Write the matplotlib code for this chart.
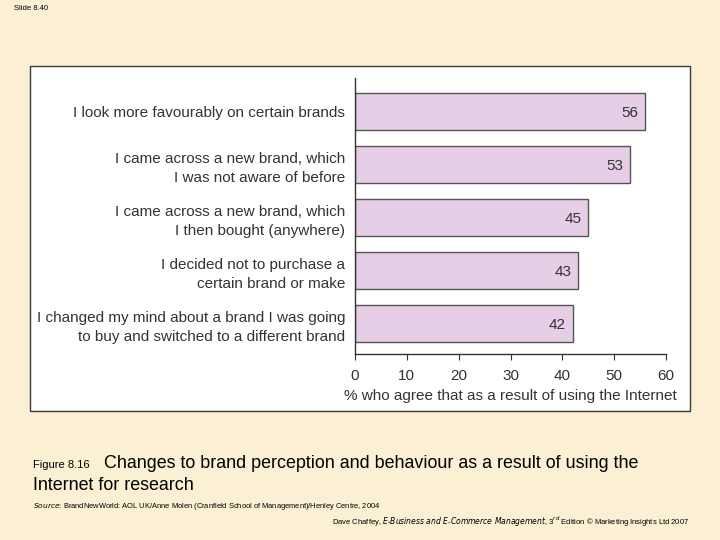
import matplotlib
matplotlib.use('Agg')
import matplotlib.pyplot as plt
from matplotlib.patches import Rectangle

plt.rcParams['font.family'] = ['Liberation Sans', 'DejaVu Sans']

categorias = [
    'I look more favourably on certain brands',
    'I came across a new brand, which\nI was not aware of before',
    'I came across a new brand, which\nI then bought (anywhere)',
    'I decided not to purchase a\ncertain brand or make',
    'I changed my mind about a brand I was going\nto buy and switched to a different brand',
]
valores = [56, 53, 45, 43, 42]
ticks_x = [0, 10, 20, 30, 40, 50, 60]

fundo = '#FBF0D4'
cor_barra = '#E6CFE6'

fig = plt.figure(figsize=(7.2, 5.4), dpi=100, facecolor=fundo)

# painel branco do grafico (atras dos eixos)
painel = Rectangle((30 / 720, 1 - 411 / 540), 660 / 720, 345 / 540,
                   transform=fig.transFigure, facecolor='white',
                   edgecolor='#3a3a3a', linewidth=1.0, zorder=-5)
fig.patches.append(painel)

ax = fig.add_axes([355 / 720, 1 - 354 / 540, 311 / 720, 276 / 540])
ax.set_facecolor('none')
ax.set_zorder(5)

pos = list(range(len(valores)))
ax.barh(pos, valores, height=0.7, color=cor_barra, edgecolor='#555555', linewidth=1.0)

for p, v in zip(pos, valores):
    ax.text(v - 1.3, p, str(v), ha='right', va='center_baseline', fontsize=11, color='#333333')

ax.set_ylim(4.575, -0.632)
ax.set_xlim(0, 60)
ax.set_yticks(pos)
ax.set_yticklabels(categorias, fontsize=11, color='#333333', linespacing=1.45)
ax.tick_params(axis='y', length=0, pad=7)
ax.set_xticks(ticks_x)
ax.tick_params(axis='x', labelsize=11, labelcolor='#333333', length=4, color='#333333', pad=7)
ax.set_xlabel('% who agree that as a result of using the Internet', fontsize=11,
              color='#333333', labelpad=4)
for lado in ['top', 'right']:
    ax.spines[lado].set_visible(False)
for lado in ['left', 'bottom']:
    ax.spines[lado].set_color('#333333')
    ax.spines[lado].set_linewidth(1.0)

# textos do slide
fig.text(14 / 720, 1 - 8 / 540, 'Slide 8.40', fontsize=5.5, va='center', color='black')
fig.text(33 / 720, 1 - 465 / 540, 'Figure 8.16', fontsize=8, va='center')
fig.text(104 / 720, 1 - 464 / 540, 'Changes to brand perception and behaviour as a result of using the',
         fontsize=12.9, va='center')
fig.text(33 / 720, 1 - 486 / 540, 'Internet for research', fontsize=12.9, va='center')
fig.text(33 / 720, 1 - 506 / 540,
         r'$\it{Source}$: BrandNewWorld: AOL UK/Anne Molen (Cranfield School of Management)/Henley Centre, 2004',
         fontsize=5.4, va='center')
fig.text(689 / 720, 1 - 522 / 540,
         'Dave Chaffey, $\\it{E}$-$\\it{Business\\ and\\ E}$-$\\it{Commerce\\ Management}$, 3$^{rd}$ Edition © Marketing Insights Ltd 2007',
         fontsize=5.5, va='center', ha='right')

fig.savefig('out.png', dpi=100, facecolor=fundo)
